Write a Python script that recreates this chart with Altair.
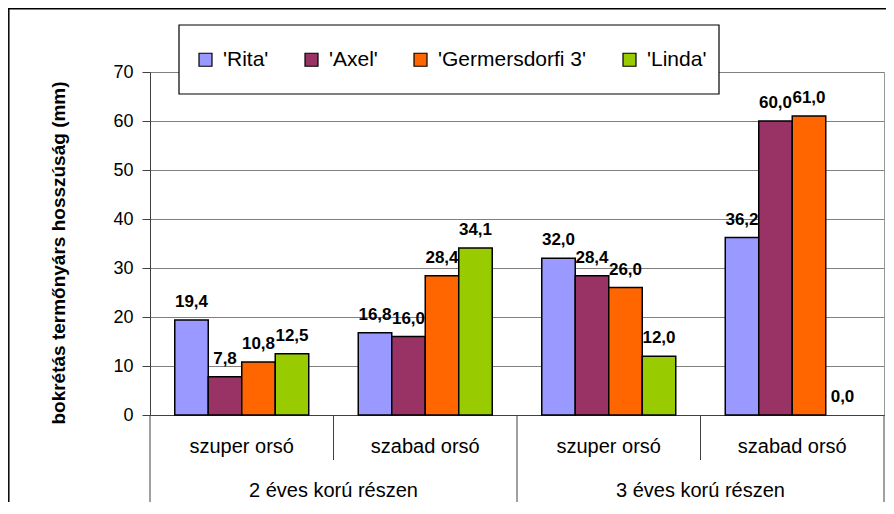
import altair as alt
import pandas as pd

# ---- data ----
categories = ["2 éves / szuper orsó", "2 éves / szabad orsó", "3 éves / szuper orsó", "3 éves / szabad orsó"]
row1_labels = ["szuper orsó", "szabad orsó", "szuper orsó", "szabad orsó"]
row2_labels = ["2 éves korú részen", "3 éves korú részen"]
series_names = ["'Rita'", "'Axel'", "'Germersdorfi 3'", "'Linda'"]
series_colors = ["#9999FF", "#993366", "#FF6600", "#99CC00"]
rita = [19.4, 16.8, 32.0, 36.2]
axel = [7.8, 16.0, 28.4, 60.0]
germ = [10.8, 28.4, 26.0, 61.0]
linda = [12.5, 34.1, 12.0, 0.0]
y_ticks = [0, 10, 20, 30, 40, 50, 60, 70]
y_title = "bokrétás termőnyárs hosszúság (mm)"

FONT = "Liberation Sans, Arial, sans-serif"
W, H = 734, 343

rows = []
for s, vals in zip(series_names, [rita, axel, germ, linda]):
    for c, v in zip(categories, vals):
        rows.append({"cat": c, "series": s, "value": v, "label": f"{v:.1f}".replace(".", ",")})
df = pd.DataFrame(rows)

xscale = alt.Scale(domain=categories, paddingInner=0, paddingOuter=0)
xoff = alt.XOffset("series:N", scale=alt.Scale(domain=series_names, paddingInner=0, paddingOuter=0.739))
yscale = alt.Scale(domain=[0, 70], nice=False)

bars = alt.Chart(df).mark_bar(stroke="black", strokeWidth=1.5).encode(
    x=alt.X("cat:N", scale=xscale, axis=alt.Axis(labels=False, ticks=False, title=None,
                                                domainColor="#404040", domainWidth=1, grid=False)),
    xOffset=xoff,
    y=alt.Y("value:Q", scale=yscale, axis=alt.Axis(
        values=y_ticks, grid=True, gridColor="#808080", gridWidth=1,
        tickColor="#404040", tickSize=8, domainColor="#404040",
        labelFont=FONT, labelFontSize=18, labelColor="black", labelPadding=9,
        title=y_title, titleFont=FONT, titleFontSize=19, titleFontWeight="bold",
        titleColor="black", titleAngle=-90, titleX=-92, titleY=180.5,
        titleAlign="center", titleBaseline="middle")),
    color=alt.Color("series:N", scale=alt.Scale(domain=series_names, range=series_colors),
                    legend=alt.Legend(title=None, orient="none", legendX=45, legendY=-23,
                                      direction="horizontal", columns=4,
                                      labelFont=FONT, labelFontSize=21, labelColor="black",
                                      symbolType="square", symbolSize=169,
                                      symbolStrokeColor="black", symbolStrokeWidth=1.2,
                                      columnPadding=32, labelOffset=7, padding=0)),
    strokeOpacity=alt.condition(alt.datum.value == 0, alt.value(0), alt.value(1)),
)

texts = alt.Chart(df).mark_text(font=FONT, fontSize=17, fontWeight="bold", color="black",
                                baseline="alphabetic", dy=-13).encode(
    x=alt.X("cat:N", scale=xscale),
    xOffset=xoff,
    y=alt.Y("value:Q", scale=yscale),
    text="label:N",
)

row1 = alt.Chart(pd.DataFrame({"cat": categories, "lab": row1_labels})).mark_text(
    font=FONT, fontSize=20, color="black", baseline="alphabetic").encode(
    x=alt.X("cat:N", scale=xscale), y=alt.value(381.3), text="lab:N")

row2 = alt.Chart(pd.DataFrame({"cat": [categories[1], categories[3]], "lab": row2_labels})).mark_text(
    font=FONT, fontSize=20, color="black", baseline="alphabetic").encode(
    x=alt.X("cat:N", scale=xscale, bandPosition=0), y=alt.value(424.7), text="lab:N")

sep_short = alt.Chart(pd.DataFrame({"cat": [categories[1], categories[3]]})).mark_rule(
    color="#404040", strokeWidth=1).encode(
    x=alt.X("cat:N", scale=xscale, bandPosition=0), y=alt.value(H), y2=alt.value(H + 45))

sep_long = alt.Chart(pd.DataFrame({"cat": [categories[0], categories[2]]})).mark_rule(
    color="#404040", strokeWidth=1).encode(
    x=alt.X("cat:N", scale=xscale, bandPosition=0), y=alt.value(H), y2=alt.value(H + 90))

sep_end = alt.Chart(pd.DataFrame({"cat": [categories[3]]})).mark_rule(
    color="#404040", strokeWidth=1).encode(
    x=alt.X("cat:N", scale=xscale, bandPosition=1), y=alt.value(H), y2=alt.value(H + 90))

one = pd.DataFrame({"k": [0]})
legend_box = alt.Chart(one).mark_rect(fill="white", stroke="black", strokeWidth=1.2).encode(
    x=alt.value(29), x2=alt.value(569), y=alt.value(-47), y2=alt.value(22))

frame_left = alt.Chart(one).mark_rule(color="black", strokeWidth=1.5).encode(
    x=alt.value(-141.2), y=alt.value(-64), y2=alt.value(H + 87))
frame_top = alt.Chart(one).mark_rule(color="black", strokeWidth=1.5).encode(
    x=alt.value(-142), x2=alt.value(W + 2), y=alt.value(-63.2))

chart = alt.layer(
    frame_left, frame_top, sep_short, sep_long, sep_end, bars, texts, row1, row2, legend_box
).properties(
    width=W, height=H,
    padding={"left": 142, "top": 64, "right": 2, "bottom": 87},
    autosize=alt.AutoSizeParams(type="none"),
    background="white",
).configure_view(stroke="#999999", strokeWidth=1)

chart.save("out.html", embed_options={"renderer": "svg", "actions": False})
